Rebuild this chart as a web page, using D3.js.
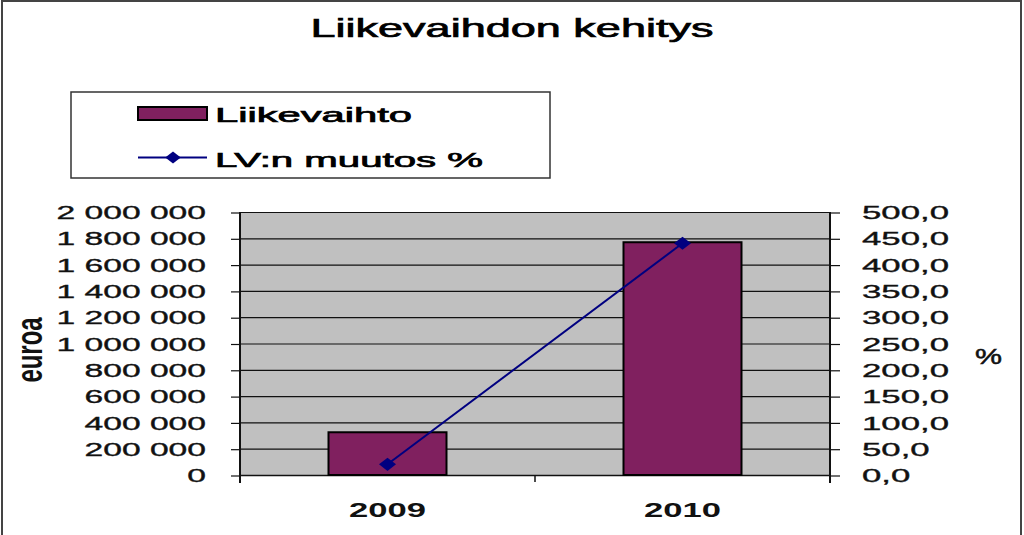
<!DOCTYPE html>
<html>
<head>
<meta charset="utf-8">
<script src="https://cdn.jsdelivr.net/npm/d3@7/dist/d3.min.js"></script>
<style>
  html, body { margin: 0; padding: 0; background: #fff; }
  svg { display: block; font-family: "Liberation Sans", Arial, sans-serif; }
</style>
</head>
<body>
<svg id="chart" width="1024" height="535"></svg>
<script>
// ---- data ----
const categories = ["2009", "2010"];
const liikevaihto = [325000, 1770000];
const muutos = [20.3, 440.5];
const leftTicks = [0, 200000, 400000, 600000, 800000, 1000000, 1200000, 1400000, 1600000, 1800000, 2000000];
const rightTicks = [0, 50, 100, 150, 200, 250, 300, 350, 400, 450, 500];
const titleText = "Liikevaihdon kehitys";
const seriesNames = ["Liikevaihto", "LV:n muutos %"];
const leftAxisTitle = "euroa";
const rightAxisTitle = "%";

// ---- layout ----
const svg = d3.select("#chart");
const plot = { left: 240, right: 830, top: 212, bottom: 475 };
const barColor = "#80205f";
const lineColor = "#000080";

const loc = d3.formatLocale({ decimal: ",", thousands: "\u00a0", grouping: [3], currency: ["", " €"] });
const fmtLeft = loc.format(",d");
const fmtRight = loc.format(".1f");

const x = d3.scaleBand().domain(categories).range([plot.left, plot.right]).padding(0);
const y0 = d3.scaleLinear().domain([0, 2000000]).range([plot.bottom, plot.top]);
const y1 = d3.scaleLinear().domain([0, 500]).range([plot.bottom, plot.top]);

// outer frame
svg.append("rect").attr("x", 2).attr("y", 1).attr("width", 1019).attr("height", 545)
  .attr("fill", "#fff").attr("stroke", "#444").attr("stroke-width", 2);

// title
svg.append("text").attr("x", 512).attr("y", 37).attr("text-anchor", "middle")
  .attr("font-size", 26).attr("fill", "#000").attr("stroke", "#000").attr("stroke-width", 0.7)
  .attr("textLength", 403).attr("lengthAdjust", "spacingAndGlyphs")
  .text(titleText);

// legend
const lg = svg.append("g");
lg.append("rect").attr("x", 71).attr("y", 92).attr("width", 479).attr("height", 86)
  .attr("fill", "#fff").attr("stroke", "#333").attr("stroke-width", 1.5);
lg.append("rect").attr("x", 138).attr("y", 107).attr("width", 69).attr("height", 13)
  .attr("fill", barColor).attr("stroke", "#000").attr("stroke-width", 2);
lg.append("text").attr("x", 215).attr("y", 122).attr("font-size", 21)
  .attr("stroke", "#000").attr("stroke-width", 0.7)
  .attr("textLength", 197).attr("lengthAdjust", "spacingAndGlyphs").text(seriesNames[0]);
lg.append("line").attr("x1", 138).attr("x2", 207).attr("y1", 157.5).attr("y2", 157.5)
  .attr("stroke", lineColor).attr("stroke-width", 2);
lg.append("path").attr("d", d3.symbol().type(d3.symbolDiamond2 || d3.symbolDiamond).size(90)())
  .attr("transform", "translate(173,157.5) scale(1.3,1)").attr("fill", lineColor);
lg.append("text").attr("x", 215).attr("y", 167).attr("font-size", 21)
  .attr("stroke", "#000").attr("stroke-width", 0.7)
  .attr("textLength", 268).attr("lengthAdjust", "spacingAndGlyphs").text(seriesNames[1]);

// plot area
svg.append("rect").attr("x", plot.left).attr("y", plot.top)
  .attr("width", plot.right - plot.left).attr("height", plot.bottom - plot.top)
  .attr("fill", "#c0c0c0");

// gridlines
svg.append("g").selectAll("line").data(leftTicks).join("line")
  .attr("x1", plot.left).attr("x2", plot.right)
  .attr("y1", d => y0(d) + 0.5).attr("y2", d => y0(d) + 0.5)
  .attr("stroke", "#111").attr("stroke-width", 1.2);

// left axis
const gl = svg.append("g").attr("transform", `translate(${plot.left},0)`)
  .call(d3.axisLeft(y0).tickValues(leftTicks).tickFormat(fmtLeft).tickSize(9).tickSizeOuter(0));
gl.select(".domain").remove();
gl.selectAll(".tick line").attr("stroke", "#111").attr("stroke-width", 1.2).attr("transform", "translate(0,0.5)");
gl.selectAll(".tick text").attr("x", 0).attr("dy", "0.35em")
  .attr("transform", `translate(-34,0) scale(1.77,1)`)
  .attr("font-size", 19).attr("fill", "#111").attr("stroke", "#111").attr("stroke-width", 0.35)
  .attr("font-family", "Liberation Sans, Arial, sans-serif");

// right axis
const gr = svg.append("g").attr("transform", `translate(${plot.right},0)`)
  .call(d3.axisRight(y1).tickValues(rightTicks).tickFormat(fmtRight).tickSize(10).tickSizeOuter(0));
gr.select(".domain").remove();
gr.selectAll(".tick line").attr("stroke", "#111").attr("stroke-width", 1.2).attr("transform", "translate(0,0.5)");
gr.selectAll(".tick text").attr("x", 0).attr("dy", "0.35em")
  .attr("transform", `translate(32,0) scale(1.83,1)`)
  .attr("font-size", 19).attr("fill", "#111").attr("stroke", "#111").attr("stroke-width", 0.35)
  .attr("font-family", "Liberation Sans, Arial, sans-serif");

// axis lines
svg.append("line").attr("x1", plot.left).attr("x2", plot.left).attr("y1", plot.top).attr("y2", plot.bottom + 8)
  .attr("stroke", "#111").attr("stroke-width", 2);
svg.append("line").attr("x1", plot.right).attr("x2", plot.right).attr("y1", plot.top).attr("y2", plot.bottom + 8)
  .attr("stroke", "#111").attr("stroke-width", 2);
svg.append("line").attr("x1", plot.left).attr("x2", plot.right).attr("y1", plot.bottom + 0.5).attr("y2", plot.bottom + 0.5)
  .attr("stroke", "#111").attr("stroke-width", 1.5);

// category boundary ticks
svg.append("g").selectAll("line").data(categories.slice(1)).join("line")
  .attr("x1", d => x(d)).attr("x2", d => x(d))
  .attr("y1", plot.bottom).attr("y2", plot.bottom + 7)
  .attr("stroke", "#111").attr("stroke-width", 1.5);

// category labels
svg.append("g").selectAll("text").data(categories).join("text")
  .attr("transform", d => `translate(${x(d) + x.bandwidth() / 2},517) scale(1.73,1)`)
  .attr("text-anchor", "middle").attr("font-size", 20).attr("font-weight", "bold").attr("fill", "#111")
  .text(d => d);

// bars
const bw = x.bandwidth() * 0.4;
svg.append("g").selectAll("rect").data(categories).join("rect")
  .attr("x", d => x(d) + (x.bandwidth() - bw) / 2)
  .attr("y", (d, i) => y0(liikevaihto[i]))
  .attr("width", bw)
  .attr("height", (d, i) => plot.bottom - y0(liikevaihto[i]))
  .attr("fill", barColor).attr("stroke", "#000").attr("stroke-width", 2);

// line
const pts = categories.map((c, i) => [x(c) + x.bandwidth() / 2, y1(muutos[i])]);
svg.append("path").datum(pts).attr("d", d3.line())
  .attr("fill", "none").attr("stroke", lineColor).attr("stroke-width", 2);
svg.append("g").selectAll("path").data(pts).join("path")
  .attr("d", d3.symbol().type(d3.symbolDiamond2 || d3.symbolDiamond).size(110)())
  .attr("transform", d => `translate(${d[0]},${d[1]}) scale(1.3,1)`)
  .attr("fill", lineColor);

// axis titles
svg.append("text").attr("transform", "translate(42,350) scale(1.8,1) rotate(-90)")
  .attr("text-anchor", "middle").attr("font-size", 21).attr("font-weight", "bold").attr("fill", "#111")
  .attr("textLength", 65).attr("lengthAdjust", "spacingAndGlyphs")
  .text(leftAxisTitle);
svg.append("text").attr("x", 975).attr("y", 364).attr("font-size", 22).attr("fill", "#111")
  .attr("stroke", "#111").attr("stroke-width", 0.5)
  .attr("textLength", 27).attr("lengthAdjust", "spacingAndGlyphs")
  .text(rightAxisTitle);
</script>
</body>
</html>
